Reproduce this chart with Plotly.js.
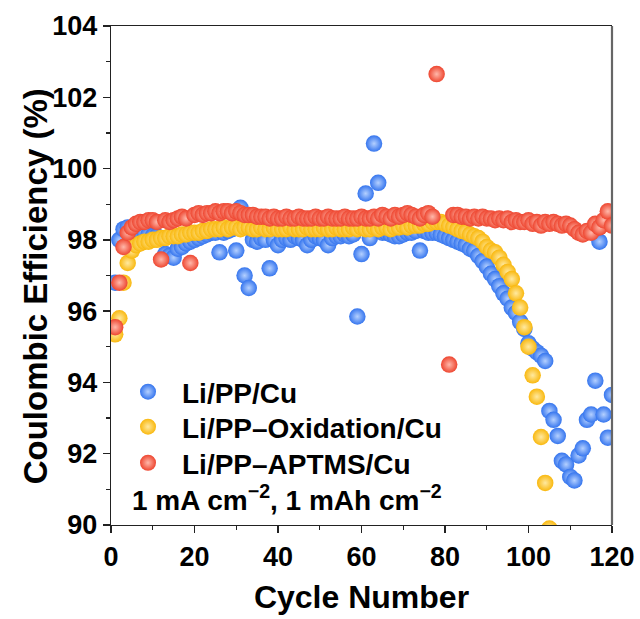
<!DOCTYPE html>
<html>
<head>
<meta charset="utf-8">
<script src="https://cdn.plot.ly/plotly-3.0.1.min.js"></script>
<style>html,body{margin:0;padding:0;background:#fff;}#chart{width:640px;height:619px;}</style>
</head>
<body>
<div id="chart"></div>
<script>
// Cycle numbers
const cyclesBlue = [1,2,3,4,5,6,7,8,9,10,11,12,13,14,15,16,17,18,19,20,21,22,23,24,25,26,27,28,29,30,31,32,33,34,35,36,37,38,39,40,41,42,43,44,45,46,47,48,49,50,51,52,53,54,55,56,57,58,59,60,61,62,63,64,65,66,67,68,69,70,71,72,73,74,75,76,77,78,79,80,81,82,83,84,85,86,87,88,89,90,91,92,93,94,95,96,97,98,99,100,101,102,103,104,105,106,107,108,109,110,111,112,113,114,115,116,117,118,119,120];
const ceBlue = [96.8,98.0,98.3,98.35,98.3,98.25,98.2,98.2,98.15,98.1,98.1,98.05,97.6,97.55,97.5,97.75,97.8,97.9,97.95,98.0,98.05,98.1,98.15,98.2,98.2,97.65,98.2,98.25,98.3,97.7,98.9,97.0,96.65,98.0,97.95,98.05,98.0,97.2,98.0,97.85,98.0,98.05,98.0,98.1,98.05,98.0,97.85,98.0,98.1,98.05,98.0,97.85,98.05,98.1,98.1,98.15,98.1,98.15,95.85,97.6,99.3,98.05,100.7,99.6,98.2,98.2,98.15,98.1,98.1,98.15,98.2,98.2,98.25,97.7,98.25,98.2,98.2,98.2,98.15,98.1,98.05,98.0,97.95,97.9,97.85,97.75,97.7,97.55,97.4,97.25,97.05,96.9,96.7,96.5,96.35,96.1,95.95,95.7,95.5,95.1,94.95,94.85,94.75,94.6,93.2,92.95,92.5,91.8,91.7,91.35,91.25,91.95,92.15,92.95,93.1,94.05,97.95,93.1,92.45,93.65];

const cyclesYellow = [1,2,3,4,5,6,7,8,9,10,11,12,13,14,15,16,17,18,19,20,21,22,23,24,25,26,27,28,29,30,31,32,33,34,35,36,37,38,39,40,41,42,43,44,45,46,47,48,49,50,51,52,53,54,55,56,57,58,59,60,61,62,63,64,65,66,67,68,69,70,71,72,73,74,75,76,77,78,79,80,81,82,83,84,85,86,87,88,89,90,91,92,93,94,95,96,97,98,99,100,101,102,103,104,105];
const ceYellow = [95.35,95.8,96.8,97.35,97.7,97.85,97.9,97.95,97.95,98.0,98.0,98.05,98.05,98.1,98.1,98.1,98.15,98.15,98.2,98.2,98.2,98.25,98.25,98.3,98.3,98.3,98.35,98.3,98.35,98.35,98.3,98.35,98.35,98.3,98.3,98.35,98.3,98.3,98.35,98.3,98.3,98.3,98.35,98.3,98.3,98.3,98.35,98.3,98.3,98.3,98.35,98.3,98.3,98.35,98.3,98.3,98.3,98.35,98.3,98.35,98.3,98.3,98.35,98.3,98.35,98.35,98.3,98.35,98.35,98.4,98.35,98.4,98.4,98.4,98.45,98.45,98.5,98.5,98.5,98.45,98.4,98.36,98.3,98.25,98.22,98.15,98.1,98.05,97.95,97.8,97.7,97.65,97.5,97.3,97.1,96.9,96.5,96.1,95.55,95.0,94.2,93.6,92.47,91.18,89.9];

const cyclesRed = [1,2,3,4,5,6,7,8,9,10,11,12,13,14,15,16,17,18,19,20,21,22,23,24,25,26,27,28,29,30,31,32,33,34,35,36,37,38,39,40,41,42,43,44,45,46,47,48,49,50,51,52,53,54,55,56,57,58,59,60,61,62,63,64,65,66,67,68,69,70,71,72,73,74,75,76,77,78,79,80,81,82,83,84,85,86,87,88,89,90,91,92,93,94,95,96,97,98,99,100,101,102,103,104,105,106,107,108,109,110,111,112,113,114,115,116,117,118,119,120];
const ceRed = [95.55,96.8,97.8,98.2,98.35,98.45,98.5,98.5,98.55,98.55,98.5,97.45,98.55,98.5,98.55,98.6,98.65,98.6,97.35,98.7,98.75,98.7,98.75,98.75,98.8,98.75,98.8,98.8,98.75,98.8,98.75,98.7,98.7,98.7,98.65,98.65,98.65,98.6,98.65,98.6,98.6,98.65,98.6,98.6,98.65,98.6,98.6,98.6,98.65,98.6,98.6,98.65,98.6,98.6,98.6,98.65,98.6,98.6,98.6,98.65,98.6,98.6,98.65,98.6,98.7,98.65,98.6,98.7,98.65,98.7,98.75,98.7,98.65,98.6,98.7,98.75,98.65,102.65,null,null,94.5,98.7,98.7,98.65,98.65,98.6,98.65,98.6,98.65,98.6,98.6,98.55,98.6,98.55,98.6,98.5,98.55,98.5,98.5,98.55,98.45,98.5,98.4,98.5,98.45,98.5,98.45,98.4,98.45,98.4,98.3,98.2,98.15,98.25,98.2,98.45,98.35,98.55,98.8,98.4];

const seriesNames = ["Li/PP/Cu", "Li/PP\u2013Oxidation/Cu", "Li/PP\u2013APTMS/Cu"];
const xTicks = [0,20,40,60,80,100,120];
const yTicks = [90,92,94,96,98,100,102,104];

const FONT = "Liberation Sans, Arial, Helvetica, sans-serif";

function sphere(x, y, name, color, light, legendId) {
  return {
    type: "scatter", mode: "markers", x: x, y: y, name: name,
    legend: legendId, cliponaxis: true,
    marker: { size: 16.5, color: color, line: { width: 0 },
              gradient: { type: "radial", color: light } }
  };
}

const traces = [
  sphere(cyclesBlue, ceBlue, seriesNames[0], "#3575ee", "#b4d0ff", "legend"),
  sphere(cyclesYellow, ceYellow, seriesNames[1], "#f9b80e", "#ffe9a0", "legend2"),
  sphere(cyclesRed, ceRed, seriesNames[2], "#ee4630", "#ffb8aa", "legend3")
];

function legendAt(yPaper) {
  return {
    x: 0.006, y: yPaper, xanchor: "left", yanchor: "middle",
    bgcolor: "rgba(0,0,0,0)", borderwidth: 0,
    font: { family: FONT, size: 28, color: "#000", weight: "bold" },
    itemwidth: 58
  };
}

const layout = {
  width: 640, height: 619,
  margin: { l: 111, r: 28, t: 26, b: 94 },
  paper_bgcolor: "#fff", plot_bgcolor: "#fff",
  font: { family: FONT, color: "#000", weight: "bold" },
  showlegend: true,
  legend: legendAt(0.2665),
  legend2: legendAt(0.1964),
  legend3: legendAt(0.1242),
  xaxis: {
    range: [0, 120], tickvals: xTicks, ticktext: xTicks.map(String),
    ticks: "outside", ticklen: 7, tickwidth: 1.3, tickcolor: "#222",
    minor: { dtick: 10, tick0: 0, ticks: "outside", ticklen: 4, tickwidth: 1.3, tickcolor: "#222" },
    showline: true, linecolor: "#222", linewidth: 1.3, mirror: true,
    showgrid: false, zeroline: false,
    tickfont: { family: FONT, size: 27, color: "#000", weight: "bold" },
    title: { text: "Cycle Number", font: { family: FONT, size: 32, color: "#000", weight: "bold" }, standoff: 15 }
  },
  yaxis: {
    range: [90, 104], tickvals: yTicks, ticktext: yTicks.map(String),
    ticks: "outside", ticklen: 7, tickwidth: 1.3, tickcolor: "#222",
    minor: { dtick: 1, tick0: 90, ticks: "outside", ticklen: 4, tickwidth: 1.3, tickcolor: "#222" },
    showline: true, linecolor: "#222", linewidth: 1.3, mirror: false,
    showgrid: false, zeroline: false,
    tickfont: { family: FONT, size: 27, color: "#000", weight: "bold" },
    title: { text: "" }
  },
  shapes: [
    { type: "line", xref: "paper", yref: "paper", x0: 1, x1: 1, y0: 0, y1: 1,
      line: { color: "#666", width: 2.2 } }
  ],
  annotations: [
    { xref: "paper", yref: "paper", x: -0.149, y: 0.479, xanchor: "center", yanchor: "middle",
      textangle: -90, showarrow: false, text: "Coulombic Efficiency (%)",
      font: { family: FONT, size: 33, color: "#000", weight: "bold" } },
    { xref: "paper", yref: "paper", x: 0.352, y: 0.054, xanchor: "center", yanchor: "middle",
      showarrow: false, text: "1 mA cm<sup>\u22122</sup>, 1 mAh cm<sup>\u22122</sup>",
      font: { family: FONT, size: 28, color: "#000", weight: "bold" } }
  ]
};

Plotly.newPlot("chart", traces, layout, { displayModeBar: false, staticPlot: true });
</script>
</body>
</html>
